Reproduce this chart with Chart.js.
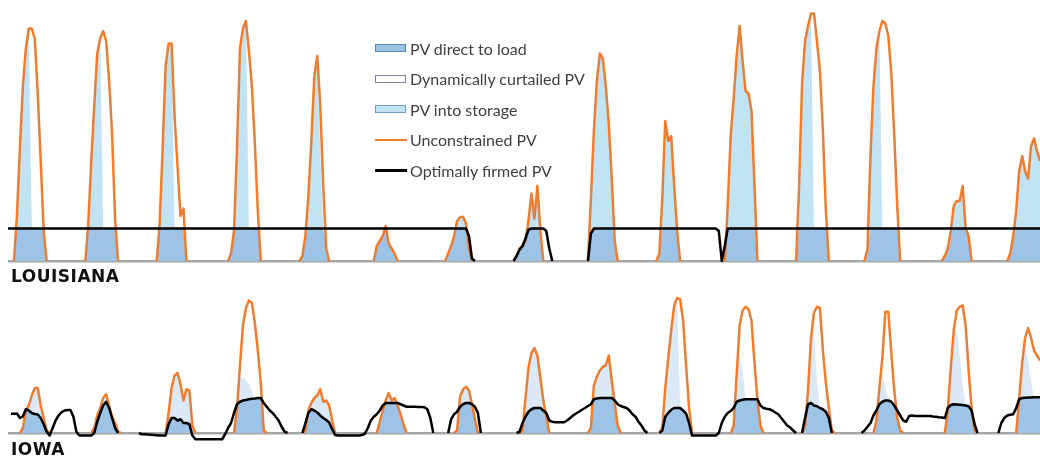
<!DOCTYPE html>
<html>
<head>
<meta charset="utf-8">
<script src="https://cdn.jsdelivr.net/npm/chart.js@4.4.1/dist/chart.umd.min.js"></script>
<style>
  body { margin: 0; background: #fff; }
  #wrap { position: relative; width: 1040px; height: 458px; overflow: hidden; }
  canvas { position: absolute; left: 0; }
  #cLA { top: 0; }
  #cIA { top: 280px; }
  .state { position: absolute; left: 11px; font: bold 17px "DejaVu Sans"; line-height: 17px; letter-spacing: 0.5px; color: #111; }
  #legend { position: absolute; left: 375px; top: 33px; font-family: Lato, "Open Sans", sans-serif; font-size: 16px; color: #404040; }
  .item { height: 30.5px; display: flex; align-items: center; white-space: nowrap; }
  .swatch { width: 31px; height: 8px; box-sizing: border-box; margin-right: 4px; }
  .swline { width: 32px; height: 2.5px; margin-right: 3px; }
</style>
</head>
<body>
<div id="wrap">
  <canvas id="cLA" width="1040" height="266"></canvas>
  <canvas id="cIA" width="1040" height="178"></canvas>
  <div class="state" style="top:268px">LOUISIANA</div>
  <div class="state" style="top:441px">IOWA</div>
  <div id="legend"></div>
</div>
<script>
// hourly steps, one row per day (24 h), share of PV capacity
const hours = Array.from({ length: 348 }, (_, i) => i);

// ---- Louisiana ----
const laPV = [
  0,0,0,0.18,0.45,0.70,0.85,0.93,0.93,0.89,0.67,0.40,0.12,0,0,0,0,0,0,0,0,0,0,0,
  0,0,0,0.15,0.40,0.62,0.83,0.89,0.92,0.88,0.72,0.51,0.17,0,0,0,0,0,0,0,0,0,0,0,
  0,0,0,0.15,0.45,0.78,0.87,0.87,0.58,0.38,0.18,0.21,0,0,0,0,0,0,0,0,0,0,0,0,
  0,0,0,0.03,0.12,0.45,0.85,0.93,0.96,0.84,0.70,0.47,0.20,0,0,0,0,0,0,0,0,0,0,0,
  0,0,0,0.02,0.10,0.26,0.48,0.74,0.82,0.62,0.30,0.05,0,0,0,0,0,0,0,0,0,0,0,0,
  0,0,0,0,0.06,0.08,0.10,0.14,0.07,0.05,0.03,0,0,0,0,0,0,0,0,0,0,0,0,0,
  0,0,0,0,0.03,0.06,0.10,0.16,0.175,0.177,0.15,0.05,0,0,0,0,0,0,0,0,0,0,0,0,
  0,0,0,0.02,0.05,0.06,0.08,0.16,0.27,0.17,0.30,0.12,0,0,0,0,0,0,0,0,0,0,0,0,
  0,0,0,0,0.25,0.52,0.72,0.83,0.81,0.70,0.55,0.33,0.08,0,0,0,0,0,0,0,0,0,0,0,
  0,0,0,0.03,0.25,0.56,0.48,0.50,0.30,0.12,0,0,0,0,0,0,0,0,0,0,0,0,0,0,
  0,0,0.22,0.50,0.65,0.82,0.94,0.80,0.68,0.67,0.60,0.30,0,0,0,0,0,0,0,0,0,0,0,0,
  0,0,0.30,0.71,0.88,0.94,0.99,0.99,0.88,0.76,0.52,0.20,0,0,0,0,0,0,0,0,0,0,0,0,
  0,0.05,0.42,0.70,0.85,0.92,0.96,0.95,0.90,0.75,0.50,0.22,0,0,0,0,0,0,0,0,0,0,0,0,
  0,0,0,0.02,0.05,0.12,0.22,0.24,0.24,0.30,0.13,0.10,0,0,0,0,0,0,0,0,0,0,0,0,
  0,0.03,0.10,0.20,0.36,0.42,0.36,0.33,0.46,0.49,0.44,0.40
];
const laDirect = [
  0,0,0,0.13,0.13,0.13,0.13,0.13,0.13,0.13,0.13,0.13,0.12,0,0,0,0,0,0,0,0,0,0,0,
  0,0,0,0.13,0.13,0.13,0.13,0.13,0.13,0.13,0.13,0.13,0.13,0,0,0,0,0,0,0,0,0,0,0,
  0,0,0,0.13,0.13,0.13,0.13,0.13,0.13,0.13,0.13,0.13,0,0,0,0,0,0,0,0,0,0,0,0,
  0,0,0,0.03,0.12,0.13,0.13,0.13,0.13,0.13,0.13,0.13,0.13,0,0,0,0,0,0,0,0,0,0,0,
  0,0,0,0.02,0.10,0.13,0.13,0.13,0.13,0.13,0.13,0.05,0,0,0,0,0,0,0,0,0,0,0,0,
  0,0,0,0,0.06,0.08,0.10,0.13,0.07,0.05,0.03,0,0,0,0,0,0,0,0,0,0,0,0,0,
  0,0,0,0,0.03,0.06,0.10,0.13,0.13,0.13,0.13,0.05,0,0,0,0,0,0,0,0,0,0,0,0,
  0,0,0,0.02,0.045,0.06,0.08,0.125,0.13,0.13,0.13,0.12,0,0,0,0,0,0,0,0,0,0,0,0,
  0,0,0,0,0.11,0.13,0.13,0.13,0.13,0.13,0.13,0.13,0.08,0,0,0,0,0,0,0,0,0,0,0,
  0,0,0,0.03,0.13,0.13,0.13,0.13,0.13,0.12,0,0,0,0,0,0,0,0,0,0,0,0,0,0,
  0,0,0.13,0.13,0.13,0.13,0.13,0.13,0.13,0.13,0.13,0.13,0,0,0,0,0,0,0,0,0,0,0,0,
  0,0,0.13,0.13,0.13,0.13,0.13,0.13,0.13,0.13,0.13,0.13,0,0,0,0,0,0,0,0,0,0,0,0,
  0,0.05,0.13,0.13,0.13,0.13,0.13,0.13,0.13,0.13,0.13,0.13,0,0,0,0,0,0,0,0,0,0,0,0,
  0,0,0,0.02,0.05,0.12,0.13,0.13,0.13,0.13,0.13,0.10,0,0,0,0,0,0,0,0,0,0,0,0,
  0,0.03,0.10,0.13,0.13,0.13,0.13,0.13,0.13,0.13,0.13,0.13
];
const laStore = [
  0,0,0,0.05,0.32,0.57,0.72,0.80,0,0,0,0,0,0,0,0,0,0,0,0,0,0,0,0,
  0,0,0,0.02,0.27,0.49,0.70,0.76,0,0,0,0,0,0,0,0,0,0,0,0,0,0,0,0,
  0,0,0,0.02,0.32,0.65,0.74,0.74,0,0,0,0,0,0,0,0,0,0,0,0,0,0,0,0,
  0,0,0,0,0,0.32,0.72,0.80,0.83,0,0,0,0,0,0,0,0,0,0,0,0,0,0,0,
  0,0,0,0,0,0.13,0.35,0.61,0.69,0.30,0,0,0,0,0,0,0,0,0,0,0,0,0,0,
  0,0,0,0,0,0,0,0,0,0,0,0,0,0,0,0,0,0,0,0,0,0,0,0,
  0,0,0,0,0,0,0,0.03,0.045,0.047,0.02,0,0,0,0,0,0,0,0,0,0,0,0,0,
  0,0,0,0,0,0,0,0.035,0.14,0.04,0.17,0,0,0,0,0,0,0,0,0,0,0,0,0,
  0,0,0,0,0.14,0.39,0.59,0.70,0.68,0.57,0.42,0.20,0,0,0,0,0,0,0,0,0,0,0,0,
  0,0,0,0,0.12,0.43,0.35,0.37,0.17,0,0,0,0,0,0,0,0,0,0,0,0,0,0,0,
  0,0,0.09,0.37,0.52,0.69,0.81,0.67,0.55,0.54,0.47,0.17,0,0,0,0,0,0,0,0,0,0,0,0,
  0,0,0.17,0.58,0.75,0.81,0.86,0,0,0,0,0,0,0,0,0,0,0,0,0,0,0,0,0,
  0,0,0.29,0.57,0.72,0.79,0,0,0,0,0,0,0,0,0,0,0,0,0,0,0,0,0,0,
  0,0,0,0,0,0,0.09,0.11,0.11,0.17,0,0,0,0,0,0,0,0,0,0,0,0,0,0,
  0,0,0,0.07,0.23,0.29,0.23,0.20,0.33,0.36,0.31,0.27
];
const laFirm = [
  0.13,0.13,0.13,0.13,0.13,0.13,0.13,0.13,0.13,0.13,0.13,0.13,0.13,0.13,0.13,0.13,0.13,0.13,0.13,0.13,0.13,0.13,0.13,0.13,
  0.13,0.13,0.13,0.13,0.13,0.13,0.13,0.13,0.13,0.13,0.13,0.13,0.13,0.13,0.13,0.13,0.13,0.13,0.13,0.13,0.13,0.13,0.13,0.13,
  0.13,0.13,0.13,0.13,0.13,0.13,0.13,0.13,0.13,0.13,0.13,0.13,0.13,0.13,0.13,0.13,0.13,0.13,0.13,0.13,0.13,0.13,0.13,0.13,
  0.13,0.13,0.13,0.13,0.13,0.13,0.13,0.13,0.13,0.13,0.13,0.13,0.13,0.13,0.13,0.13,0.13,0.13,0.13,0.13,0.13,0.13,0.13,0.13,
  0.13,0.13,0.13,0.13,0.13,0.13,0.13,0.13,0.13,0.13,0.13,0.13,0.13,0.13,0.13,0.13,0.13,0.13,0.13,0.13,0.13,0.13,0.13,0.13,
  0.13,0.13,0.13,0.13,0.13,0.13,0.13,0.13,0.13,0.13,0.13,0.13,0.13,0.13,0.13,0.13,0.13,0.13,0.13,0.13,0.13,0.13,0.13,0.13,
  0.13,0.13,0.13,0.13,0.13,0.13,0.13,0.13,0.13,0.13,0.13,0.10,0.01,0,0,0,0,0,0,0,0,0,0,0,
  0,0,0,0.02,0.045,0.06,0.09,0.125,0.13,0.13,0.13,0.13,0.13,0.12,0.05,0,0,0,0,0,0,0,0,0,
  0,0,0,0,0.11,0.13,0.13,0.13,0.13,0.13,0.13,0.13,0.13,0.13,0.13,0.13,0.13,0.13,0.13,0.13,0.13,0.13,0.13,0.13,
  0.13,0.13,0.13,0.13,0.13,0.13,0.13,0.13,0.13,0.13,0.13,0.13,0.13,0.13,0.13,0.13,0.13,0.13,0.13,0.13,0.13,0.13,0.13,0.12,
  0,0.06,0.13,0.13,0.13,0.13,0.13,0.13,0.13,0.13,0.13,0.13,0.13,0.13,0.13,0.13,0.13,0.13,0.13,0.13,0.13,0.13,0.13,0.13,
  0.13,0.13,0.13,0.13,0.13,0.13,0.13,0.13,0.13,0.13,0.13,0.13,0.13,0.13,0.13,0.13,0.13,0.13,0.13,0.13,0.13,0.13,0.13,0.13,
  0.13,0.13,0.13,0.13,0.13,0.13,0.13,0.13,0.13,0.13,0.13,0.13,0.13,0.13,0.13,0.13,0.13,0.13,0.13,0.13,0.13,0.13,0.13,0.13,
  0.13,0.13,0.13,0.13,0.13,0.13,0.13,0.13,0.13,0.13,0.13,0.13,0.13,0.13,0.13,0.13,0.13,0.13,0.13,0.13,0.13,0.13,0.13,0.13,
  0.13,0.13,0.13,0.13,0.13,0.13,0.13,0.13,0.13,0.13,0.13,0.13
];

// ---- Iowa ----
const iaPV = [
  0,0,0,0,0,0.02,0.09,0.11,0.15,0.18,0.18,0.11,0.06,0.01,0,0,0,0,0,0,0,0,0,0,
  0,0,0,0,0,0.02,0.07,0.10,0.14,0.155,0.11,0.065,0.04,0.005,0,0,0,0,0,0,0,0,0,0,
  0,0,0,0,0,0,0.08,0.18,0.23,0.24,0.195,0.13,0.175,0.17,0.03,0,0,0,0,0,0,0,0,0,
  0,0,0,0,0,0.10,0.27,0.43,0.50,0.53,0.52,0.44,0.33,0.20,0.01,0,0,0,0,0,0,0,0,0,
  0,0,0,0,0.01,0.09,0.12,0.14,0.15,0.175,0.125,0.13,0.11,0.05,0,0,0,0,0,0,0,0,0,0,
  0,0,0,0,0,0.045,0.09,0.13,0.16,0.13,0.14,0.11,0.075,0.035,0,0,0,0,0,0,0,0,0,0,
  0,0,0,0,0,0,0,0.01,0.145,0.175,0.185,0.17,0.115,0.055,0,0,0,0,0,0,0,0,0,0,
  0,0,0,0,0,0.01,0.14,0.26,0.32,0.34,0.31,0.22,0.13,0.065,0,0,0,0,0,0,0,0,0,0,
  0,0,0,0,0.02,0.19,0.225,0.25,0.265,0.27,0.31,0.21,0.12,0.03,0,0,0,0,0,0,0,0,0,0,
  0,0,0,0,0.02,0.18,0.30,0.41,0.51,0.54,0.535,0.45,0.27,0.10,0,0,0,0,0,0,0,0,0,0,
  0,0,0,0,0.03,0.23,0.43,0.49,0.505,0.495,0.45,0.28,0.13,0.03,0,0,0,0,0,0,0,0,0,0,
  0,0,0,0,0.03,0.17,0.38,0.48,0.505,0.50,0.33,0.20,0.10,0.01,0,0,0,0,0,0,0,0,0,0,
  0,0,0,0,0.05,0.18,0.30,0.485,0.485,0.32,0.17,0.06,0.01,0,0,0,0,0,0,0,0,0,0,0,
  0,0,0,0,0.09,0.26,0.41,0.49,0.505,0.51,0.43,0.25,0.10,0.01,0,0,0,0,0,0,0,0,0,0,
  0,0,0,0,0.14,0.28,0.38,0.42,0.38,0.33,0.31,0.29
];
const iaDirect = [
  0,0,0,0,0,0.02,0.09,0.09,0.08,0.076,0.074,0.06,0.035,0.005,0,0,0,0,0,0,0,0,0,0,
  0,0,0,0,0,0,0.045,0.08,0.11,0.125,0.10,0.06,0.02,0,0,0,0,0,0,0,0,0,0,0,
  0,0,0,0,0,0,0.035,0.06,0.06,0.05,0.055,0.04,0.04,0.035,0,0,0,0,0,0,0,0,0,0,
  0,0,0,0,0,0.10,0.125,0.13,0.132,0.135,0.137,0.138,0.14,0.14,0.01,0,0,0,0,0,0,0,0,0,
  0,0,0,0,0.01,0.08,0.095,0.09,0.082,0.07,0.06,0.052,0.042,0.015,0,0,0,0,0,0,0,0,0,0,
  0,0,0,0,0,0.045,0.09,0.12,0.12,0.12,0.12,0.11,0.075,0.035,0,0,0,0,0,0,0,0,0,0,
  0,0,0,0,0,0,0,0.01,0.105,0.115,0.12,0.12,0.115,0.055,0,0,0,0,0,0,0,0,0,0,
  0,0,0,0,0,0.01,0.065,0.085,0.095,0.10,0.10,0.10,0.09,0.065,0,0,0,0,0,0,0,0,0,0,
  0,0,0,0,0.02,0.135,0.138,0.14,0.14,0.14,0.14,0.14,0.12,0.03,0,0,0,0,0,0,0,0,0,0,
  0,0,0,0,0.01,0.065,0.08,0.093,0.10,0.10,0.10,0.09,0.078,0.04,0,0,0,0,0,0,0,0,0,0,
  0,0,0,0,0.03,0.125,0.13,0.133,0.135,0.135,0.135,0.135,0.13,0.03,0,0,0,0,0,0,0,0,0,0,
  0,0,0,0,0.03,0.115,0.12,0.11,0.107,0.10,0.095,0.085,0.06,0,0,0,0,0,0,0,0,0,0,0,
  0,0,0,0,0.05,0.115,0.125,0.13,0.13,0.125,0.11,0.06,0.01,0,0,0,0,0,0,0,0,0,0,0,
  0,0,0,0,0.09,0.112,0.115,0.114,0.113,0.112,0.11,0.107,0.09,0.01,0,0,0,0,0,0,0,0,0,0,
  0,0,0,0,0.135,0.14,0.141,0.142,0.142,0.143,0.143,0.143
];
const iaStore = [
  0,0,0,0,0,0,0,0.02,0.07,0.104,0.106,0.05,0.025,0.005,0,0,0,0,0,0,0,0,0,0,
  0,0,0,0,0,0.02,0.025,0.02,0.03,0.03,0.01,0.005,0.02,0.005,0,0,0,0,0,0,0,0,0,0,
  0,0,0,0,0,0,0.045,0.12,0.17,0.19,0.14,0.09,0.135,0.135,0.03,0,0,0,0,0,0,0,0,0,
  0,0,0,0,0,0,0.10,0.09,0.08,0.06,0.03,0,0,0,0,0,0,0,0,0,0,0,0,0,
  0,0,0,0,0,0.01,0.025,0.05,0.068,0.105,0.065,0.078,0.068,0.035,0,0,0,0,0,0,0,0,0,0,
  0,0,0,0,0,0,0,0.01,0.04,0.01,0.02,0,0,0,0,0,0,0,0,0,0,0,0,0,
  0,0,0,0,0,0,0,0,0.04,0.06,0.065,0.05,0,0,0,0,0,0,0,0,0,0,0,0,
  0,0,0,0,0,0,0.075,0.175,0.225,0.24,0.21,0.12,0.04,0,0,0,0,0,0,0,0,0,0,0,
  0,0,0,0,0,0.055,0.087,0.11,0.125,0.13,0.17,0.07,0,0,0,0,0,0,0,0,0,0,0,0,
  0,0,0,0,0.01,0.115,0.22,0.317,0.41,0.44,0,0,0,0,0,0,0,0,0,0,0,0,0,0,
  0,0,0,0,0,0.10,0.19,0.12,0,0,0,0,0,0,0,0,0,0,0,0,0,0,0,0,
  0,0,0,0,0,0.055,0.26,0.30,0.10,0,0,0,0,0,0,0,0,0,0,0,0,0,0,0,
  0,0,0,0,0,0.065,0.10,0.05,0,0,0,0,0,0,0,0,0,0,0,0,0,0,0,0,
  0,0,0,0,0,0.148,0.295,0.30,0.20,0.08,0,0,0,0,0,0,0,0,0,0,0,0,0,0,
  0,0,0,0,0.005,0.14,0.20,0.15,0.06,0,0,0
];
const iaFirm = [
  null,0.077,0.077,0.078,0.06,0.066,0.095,0.09,0.08,0.076,0.074,0.06,0.035,0.005,-0.01,0.02,0.05,0.07,0.083,0.09,0.092,0.092,0.065,0.005,
  -0.01,-0.01,-0.01,-0.01,-0.01,0,0.045,0.08,0.11,0.125,0.10,0.06,0.02,0,0,0,0,0,0,0,0,-0.005,-0.005,-0.006,
  -0.007,-0.008,-0.009,-0.01,-0.01,-0.01,0.035,0.06,0.06,0.05,0.055,0.04,0.04,0.035,-0.01,-0.025,-0.025,-0.025,-0.025,-0.025,-0.025,-0.025,-0.025,-0.025,
  -0.025,-0.005,0.02,0.04,0.08,0.115,0.125,0.13,0.132,0.135,0.137,0.138,0.14,0.14,0.12,0.105,0.09,0.08,0.065,0.05,0.025,0.005,0,0,
  0,0,0,0,0.04,0.08,0.095,0.09,0.082,0.07,0.06,0.052,0.042,0.015,-0.008,-0.01,-0.01,-0.01,-0.01,-0.01,-0.01,-0.01,-0.01,-0.008,
  -0.003,0.02,0.05,0.065,0.075,0.09,0.11,0.12,0.12,0.12,0.12,0.12,0.115,0.11,0.105,0.105,0.105,0.105,0.104,0.104,0.103,0.095,0.06,0,
  0,0,0,0,0,0.055,0.075,0.085,0.105,0.115,0.12,0.12,0.115,0.105,0.08,0,0,0,0,0,0,0,0,0,
  0,0,0,0,0.005,0.04,0.065,0.085,0.095,0.10,0.10,0.10,0.09,0.08,0.05,0.045,0.043,0.043,0.043,0.043,0.05,0.06,0.07,0.078,
  0.085,0.093,0.10,0.108,0.115,0.135,0.138,0.14,0.14,0.14,0.14,0.14,0.13,0.115,0.108,0.104,0.10,0.09,0.075,0.065,0.045,0.03,0.01,0,
  0,0,0,0,0.01,0.065,0.08,0.093,0.10,0.10,0.10,0.09,0.078,0.04,-0.01,-0.01,-0.01,-0.01,-0.01,-0.01,-0.01,-0.01,-0.01,0,
  0.04,0.065,0.08,0.088,0.10,0.125,0.13,0.133,0.135,0.135,0.135,0.135,0.135,0.11,0.10,0.097,0.095,0.09,0.082,0.075,0.06,0.045,0.03,0.022,
  0.01,0,0,0,0.06,0.115,0.12,0.11,0.107,0.10,0.095,0.085,0.06,0,0,0,0,0,0,0,0,0,0,0,
  0.01,0.025,0.04,0.07,0.09,0.115,0.125,0.13,0.13,0.125,0.11,0.09,0.07,0.05,0.045,0.068,0.07,0.068,0.068,0.068,0.068,0.068,0.068,0.066,
  0.065,0.063,0.062,0.06,0.10,0.112,0.115,0.114,0.113,0.112,0.11,0.107,0.09,0.035,0,0,0,0,0,0,0,0,0.04,0.06,
  0.07,0.073,0.075,0.10,0.135,0.14,0.141,0.142,0.142,0.143,0.143,0.143
];

const series = { laPV, laDirect, laStore, laFirm, iaPV, iaDirect, iaStore, iaFirm };
Object.entries(series).forEach(([name, arr]) => {
  if (arr.length !== hours.length) throw new Error(name + ' has ' + arr.length + ' values');
});

const none = 'rgba(0,0,0,0)';
// no stroke while a line just sits on the zero baseline
const hideFlat = ctx => (ctx.p0.parsed.y === 0 && ctx.p1.parsed.y === 0) ? none : undefined;

function buildChart(id, pv, direct, store, firm, storeColor, yMin, yMax, padBottom) {
  // what is left between storage and the unconstrained output was curtailed
  const curtailed = pv.map((v, i) => Math.max(0, +(v - direct[i] - store[i]).toFixed(3)));
  return new Chart(document.getElementById(id), {
    type: 'line',
    data: {
      labels: hours,
      datasets: [
        { label: 'Optimally firmed PV', data: firm, stack: 'firm', borderColor: '#000000', borderWidth: 2.5, fill: false, clip: false, segment: { borderColor: hideFlat } },
        { label: 'Unconstrained PV', data: pv, stack: 'pv', borderColor: '#ed7d31', borderWidth: 2.5, fill: false, clip: false, segment: { borderColor: hideFlat } },
        { label: 'PV direct to load', data: direct, stack: 'areas', borderColor: none, borderWidth: 0, backgroundColor: '#9dc3e6', fill: 'origin' },
        { label: 'PV into storage', data: store, stack: 'areas', borderColor: none, borderWidth: 0, backgroundColor: storeColor, fill: '-1' },
        { label: 'Dynamically curtailed PV', data: curtailed, stack: 'areas', borderColor: none, borderWidth: 0, backgroundColor: '#ffffff', fill: '-1' }
      ]
    },
    options: {
      responsive: false,
      animation: false,
      devicePixelRatio: 1,
      layout: { padding: { left: 8, right: 0, top: 0, bottom: padBottom } },
      elements: {
        point: { radius: 0, hoverRadius: 0 },
        line: { tension: 0, borderJoinStyle: 'round' }
      },
      plugins: { legend: { display: false }, tooltip: { enabled: false } },
      scales: {
        x: { display: false },
        y: {
          stacked: true,
          min: yMin,
          max: yMax,
          border: { display: false },
          ticks: { display: false },
          grid: { color: '#a6a6a6', lineWidth: 2.5, drawTicks: false },
          afterBuildTicks: s => { s.ticks = [{ value: 0 }]; },
          afterFit: s => { s.width = 0; }
        }
      }
    }
  });
}

const laChart = buildChart('cLA', laPV, laDirect, laStore, laFirm, '#c2e3f4', 0, 1.044, 5);
const iaChart = buildChart('cIA', iaPV, iaDirect, iaStore, iaFirm, '#dbe9f7', -0.068, 0.612, 8);

// vertical legend, same order as the report
const legendEl = document.getElementById('legend');
const boxBorders = { 2: '#5a86b4', 3: '#6e9ebd', 4: '#8c7c9c' };
[2, 4, 3, 1, 0].forEach(i => {
  const ds = laChart.data.datasets[i];
  const row = document.createElement('div');
  row.className = 'item';
  const sw = document.createElement('span');
  if (ds.fill) {
    sw.className = 'swatch';
    sw.style.background = ds.backgroundColor;
    sw.style.border = '1px solid ' + boxBorders[i];
  } else {
    sw.className = 'swline';
    sw.style.background = ds.borderColor;
  }
  const txt = document.createElement('span');
  txt.textContent = ds.label;
  row.append(sw, txt);
  legendEl.appendChild(row);
});
</script>
</body>
</html>
